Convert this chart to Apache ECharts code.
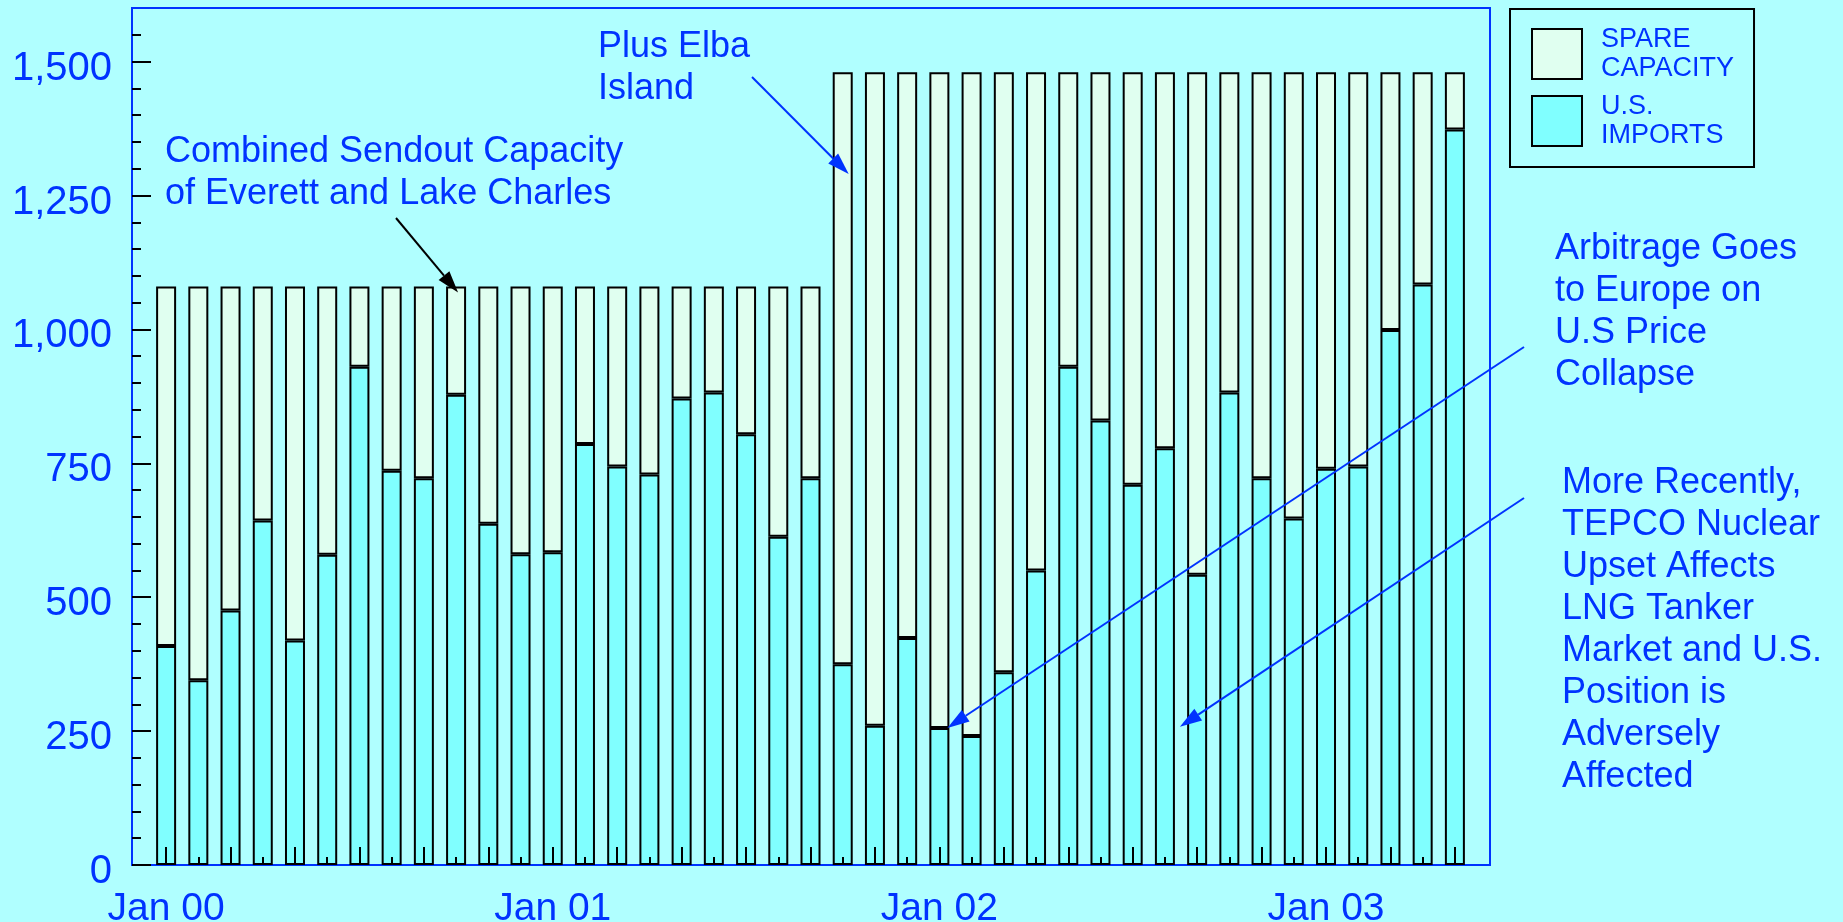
<!DOCTYPE html>
<html>
<head>
<meta charset="utf-8">
<script src="https://cdn.jsdelivr.net/npm/echarts@6/dist/echarts.min.js"></script>
<style>
  html, body { margin: 0; padding: 0; background: #b0ffff; }
  #chart { width: 1843px; height: 922px; }
</style>
</head>
<body>
<div id="chart"></div>
<script>
// Monthly LNG sendout capacity vs. U.S. imports (MMcf/d)
const months = [
  'Jan 00','Feb 00','Mar 00','Apr 00','May 00','Jun 00','Jul 00','Aug 00','Sep 00','Oct 00','Nov 00','Dec 00',
  'Jan 01','Feb 01','Mar 01','Apr 01','May 01','Jun 01','Jul 01','Aug 01','Sep 01','Oct 01','Nov 01','Dec 01',
  'Jan 02','Feb 02','Mar 02','Apr 02','May 02','Jun 02','Jul 02','Aug 02','Sep 02','Oct 02','Nov 02','Dec 02',
  'Jan 03','Feb 03','Mar 03','Apr 03','May 03'
];
const sendoutCapacity = [
  1080,1080,1080,1080,1080,1080,1080,1080,1080,1080,1080,1080,
  1080,1080,1080,1080,1080,1080,1080,1080,1080,1480,1480,1480,
  1480,1480,1480,1480,1480,1480,1480,1480,1480,1480,1480,1480,
  1480,1480,1480,1480,1480
];
const usImports = [
  409, 345, 475, 643, 419, 579, 930, 736, 722, 878, 637, 580,
  584, 786, 744, 729, 871, 882, 804, 613, 722, 375, 260, 424,
  256, 241, 360, 550, 930, 830, 710, 778, 542, 882, 722, 647,
  740, 744, 999, 1084, 1373
];
const yLabelValues = [0, 250, 500, 750, 1000, 1250, 1500];
const yMinorValues = [50, 100, 150, 200, 300, 350, 400, 450, 550, 600, 650, 700,
  800, 850, 900, 950, 1050, 1100, 1150, 1200, 1300, 1350, 1400, 1450, 1550];

const spareCapacity = sendoutCapacity.map((c, i) => c - usImports[i]);

const BLUE = '#0033ff';
const FONT = '"Liberation Sans", Arial, Helvetica, sans-serif';

const chart = echarts.init(document.getElementById('chart'), null, { renderer: 'canvas' });

const legendNames = { 'SPARE CAPACITY': 'SPARE\nCAPACITY', 'U.S. IMPORTS': 'U.S.\nIMPORTS' };

chart.setOption({
  backgroundColor: '#b0ffff',
  animation: false,
  grid: [
    { left: 132, top: 8, right: 353, bottom: 57, show: true, borderColor: BLUE, borderWidth: 2,
      backgroundColor: 'transparent', containLabel: false, outerBoundsMode: 'none' },
    { left: 150, top: 8, right: 372, bottom: 57, containLabel: false, outerBoundsMode: 'none' }
  ],
  legend: {
    orient: 'vertical',
    left: 1510, top: 9,
    padding: [13, 20, 14, 21],
    itemWidth: 50, itemHeight: 50, itemGap: 3,
    borderColor: '#000', borderWidth: 2,
    icon: 'rect',
    data: ['SPARE CAPACITY', 'U.S. IMPORTS'],
    itemStyle: { borderColor: '#000', borderWidth: 2 },
    formatter: n => legendNames[n],
    textStyle: { color: BLUE, fontSize: 27, lineHeight: 29, fontFamily: FONT, padding: [6, 0, 0, 14] }
  },
  xAxis: [
    { gridIndex: 0, type: 'value', min: 0, max: 1, show: false },
    {
      gridIndex: 1, type: 'category', data: months, position: 'bottom', z: 5,
      axisLine: { show: false },
      axisTick: { show: true, inside: true, interval: 1, alignWithLabel: true, length: 18, lineStyle: { color: '#000', width: 2 } },
      axisLabel: { interval: 11, color: BLUE, fontSize: 39, fontFamily: FONT, margin: 25 }
    },
    {
      gridIndex: 1, type: 'category', data: months, position: 'bottom', z: 5,
      axisLine: { show: false },
      axisTick: { show: true, inside: true, interval: 0, alignWithLabel: true, length: 8, lineStyle: { color: '#000', width: 2 } },
      axisLabel: { show: false }
    }
  ],
  yAxis: [
    {
      gridIndex: 0, type: 'value', min: 0, max: 1600, position: 'left',
      splitLine: { show: false },
      axisLine: { show: false },
      axisTick: { show: true, inside: true, length: 19, customValues: yLabelValues, lineStyle: { color: '#000', width: 2 } },
      axisLabel: {
        customValues: yLabelValues, color: BLUE, fontSize: 40, fontFamily: FONT, margin: 20,
        lineHeight: 14,
        verticalAlign: 'top', verticalAlignMinLabel: 'top', verticalAlignMaxLabel: 'top',
        formatter: v => v.toLocaleString('en-US')
      }
    },
    {
      gridIndex: 0, type: 'value', min: 0, max: 1600, position: 'left',
      splitLine: { show: false },
      axisLine: { show: false },
      axisTick: { show: true, inside: true, length: 9, customValues: yMinorValues, lineStyle: { color: '#000', width: 2 } },
      axisLabel: { show: false }
    },
    { gridIndex: 1, type: 'value', min: 0, max: 1600, show: false }
  ],
  series: [
    {
      name: 'U.S. IMPORTS', type: 'bar', stack: 'total', xAxisIndex: 1, yAxisIndex: 2,
      barWidth: 20, data: usImports,
      itemStyle: { color: '#80ffff', borderColor: '#000', borderWidth: 2 }
    },
    {
      name: 'SPARE CAPACITY', type: 'bar', stack: 'total', xAxisIndex: 1, yAxisIndex: 2,
      barWidth: 20, data: spareCapacity,
      itemStyle: { color: '#e0fff0', borderColor: '#000', borderWidth: 2 }
    }
  ]
});

// Annotation callouts: text blocks plus arrows pointing at bars
const px = (i, v) => chart.convertToPixel({ xAxisIndex: 1, yAxisIndex: 2 }, [i, v]);

function arrow(from, to, color) {
  const dx = to[0] - from[0], dy = to[1] - from[1];
  const len = Math.hypot(dx, dy);
  const ux = dx / len, uy = dy / len;
  const hl = 22, hw = 7;
  const bx = to[0] - ux * hl, by = to[1] - uy * hl;
  return [
    { type: 'line', z: 20, shape: { x1: from[0], y1: from[1], x2: bx, y2: by }, style: { stroke: color, lineWidth: 2 } },
    { type: 'polygon', z: 20, shape: { points: [[to[0], to[1]], [bx - uy * hw, by + ux * hw], [bx + uy * hw, by - ux * hw]] }, style: { fill: color } }
  ];
}

function note(x, y, text) {
  return { type: 'text', x, y, z: 20, style: { text, fill: BLUE, fontSize: 36, fontFamily: FONT, lineHeight: 42, verticalAlign: 'top' } };
}

const tipA = px(9, sendoutCapacity[9]);
const tipB = px(21, 1290);
const tipC = px(24, usImports[24]);
const tipD = px(31, 258);

chart.setOption({
  graphic: [
    note(165, 131, 'Combined Sendout Capacity\nof Everett and Lake Charles'),
    note(598, 26, 'Plus Elba\nIsland'),
    note(1555, 228, 'Arbitrage Goes\nto Europe on\nU.S Price\nCollapse'),
    note(1562, 462, 'More Recently,\nTEPCO Nuclear\nUpset Affects\nLNG Tanker\nMarket and U.S.\nPosition is\nAdversely\nAffected'),
    ...arrow([396, 218], [tipA[0] + 2, tipA[1] + 6], '#000'),
    ...arrow([752, 77], [tipB[0] + 6, tipB[1]], BLUE),
    ...arrow([1524, 347], [tipC[0] + 8, tipC[1]], BLUE),
    ...arrow([1524, 498], [tipD[0] + 15, tipD[1]], BLUE)
  ]
});
</script>
</body>
</html>
